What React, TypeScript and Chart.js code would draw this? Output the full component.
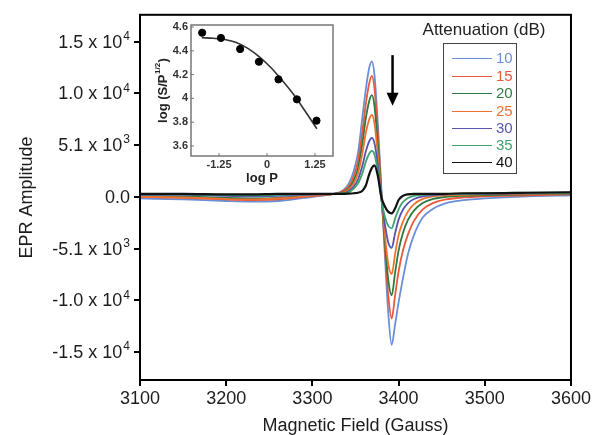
import React, { useEffect, useRef } from 'react';
import { Chart, registerables } from 'chart.js';

Chart.register(...registerables);

// ---------- data ----------
const FIELD = [3100, 3150, 3200, 3230, 3260, 3290, 3310, 3325, 3335, 3342, 3348, 3353, 3358, 3362, 3366, 3369, 3372, 3376, 3380, 3384, 3388, 3392, 3396, 3400, 3405, 3411, 3418, 3428, 3440, 3455, 3475, 3500, 3550, 3600];

const ATTENUATIONS = ['10', '15', '20', '25', '30', '35', '40'];
const COLORS = ['#6b8fd6', '#e8583a', '#2d7a3f', '#f07030', '#5654ad', '#3da36b', '#111111'];

const AMP_10 = [-150, -250, -400, -450, -400, -100, 100, 300, 600, 1250, 2500, 4300, 7700, 10400, 12500, 13100, 11800, 7000, 800, -5500, -11200, -14300, -12300, -10200, -7900, -5500, -3650, -2000, -1150, -600, -320, -150, 50, 150];
const AMP_15 = [0, -100, -250, -300, -250, 0, 150, 300, 550, 1000, 2000, 3500, 6300, 9000, 11000, 11700, 10500, 6000, 500, -4800, -9500, -11750, -9500, -7200, -5200, -3600, -2300, -1200, -600, -250, -50, 50, 150, 250];
const AMP_20 = [100, 50, -100, -150, -100, 100, 200, 300, 450, 800, 1600, 2800, 5200, 7600, 9300, 9840, 8800, 5000, 300, -4200, -8000, -9520, -7300, -5200, -3500, -2200, -1300, -600, -200, 0, 100, 150, 250, 300];
const AMP_25 = [0, -50, -200, -250, -150, 50, 200, 300, 400, 700, 1300, 2300, 4200, 6200, 7500, 7930, 7100, 4000, 0, -3600, -6500, -7460, -5500, -3700, -2400, -1400, -700, -200, 50, 150, 200, 250, 300, 350];
const AMP_30 = [200, 200, 100, 50, 100, 200, 250, 300, 350, 550, 1000, 1700, 3000, 4400, 5400, 5710, 5200, 3000, -200, -2600, -4400, -4920, -3500, -2200, -1240, -600, -200, 50, 150, 250, 300, 300, 350, 400];
const AMP_35 = [250, 250, 200, 150, 200, 250, 300, 300, 350, 450, 800, 1300, 2300, 3400, 4200, 4440, 4100, 2400, -200, -1900, -2800, -3020, -2100, -1200, -500, -100, 100, 200, 250, 300, 300, 350, 400, 400];
const AMP_40 = [300, 300, 250, 250, 300, 300, 300, 300, 300, 320, 350, 400, 600, 1100, 2200, 2800, 3050, 2000, 0, -900, -1450, -1590, -1100, -300, 100, 250, 300, 300, 300, 300, 350, 350, 400, 450];
const AMPLITUDES = [AMP_10, AMP_15, AMP_20, AMP_25, AMP_30, AMP_35, AMP_40];

const X_TICKS = [3100, 3200, 3300, 3400, 3500, 3600];
const Y_TICKS = [-15000, -10000, -5000, 0, 5000, 10000, 15000];
// tick label mantissa and exponent (exponent '' = no power of ten)
const Y_TICK_MANTISSA = ['-1.5', '-1.0', '-5.1', '0.0', '5.1', '1.0', '1.5'];
const Y_TICK_EXPONENT = ['4', '4', '3', '', '3', '4', '4'];

// arrow annotation (data coordinates)
const ARROW_FIELD = 3393;
const ARROW_FROM = 13700;
const ARROW_TO = 8800;

// inset: saturation plot
const LOG_P = [-1.69, -1.2, -0.7, -0.21, 0.3, 0.78, 1.29];
const LOG_S = [4.552, 4.508, 4.415, 4.308, 4.16, 3.992, 3.813];
const FIT_LOG_P = [-1.7, -1.4, -1.1, -0.8, -0.5, -0.2, 0.1, 0.4, 0.7, 1.0, 1.3];
const FIT_LOG_S = [4.51, 4.505, 4.495, 4.47, 4.42, 4.35, 4.26, 4.15, 4.03, 3.89, 3.745];
const INSET_X_TICKS = [-1.25, 0, 1.25];
const INSET_Y_TICKS = [3.6, 3.8, 4.0, 4.2, 4.4, 4.6];

const FONT = '"Liberation Sans", Arial, sans-serif';
const TEXT = '#1c1c1c';

const mainPlugin = {
  id: 'mainDeco',
  afterDraw(chart: any) {
    const { ctx, chartArea } = chart;
    const xs = chart.scales.x;
    const ys = chart.scales.y;
    ctx.save();
    ctx.strokeStyle = '#000';
    ctx.lineWidth = 2;
    ctx.strokeRect(chartArea.left, chartArea.top, chartArea.right - chartArea.left, chartArea.bottom - chartArea.top);
    // y tick labels with superscript exponent
    ctx.fillStyle = TEXT;
    ctx.textBaseline = 'middle';
    ctx.textAlign = 'left';
    const big = '18px ' + FONT;
    const small = '12px ' + FONT;
    const rightX = chartArea.left - 10;
    Y_TICKS.forEach((v, i) => {
      const py = ys.getPixelForValue(v);
      const base = Y_TICK_EXPONENT[i] ? Y_TICK_MANTISSA[i] + ' x 10' : Y_TICK_MANTISSA[i];
      ctx.font = big;
      const wb = ctx.measureText(base).width;
      let we = 0;
      if (Y_TICK_EXPONENT[i]) {
        ctx.font = small;
        we = ctx.measureText(Y_TICK_EXPONENT[i]).width + 1;
      }
      const x0 = rightX - wb - we;
      ctx.font = big;
      ctx.fillText(base, x0, py + 1);
      if (Y_TICK_EXPONENT[i]) {
        ctx.font = small;
        ctx.fillText(Y_TICK_EXPONENT[i], x0 + wb + 1, py - 5);
      }
    });
    // arrow
    const ax = xs.getPixelForValue(ARROW_FIELD);
    const ay1 = ys.getPixelForValue(ARROW_FROM);
    const ay2 = ys.getPixelForValue(ARROW_TO);
    ctx.strokeStyle = '#000';
    ctx.lineWidth = 2.5;
    ctx.beginPath();
    ctx.moveTo(ax, ay1);
    ctx.lineTo(ax, ay2 - 10);
    ctx.stroke();
    ctx.fillStyle = '#000';
    ctx.beginPath();
    ctx.moveTo(ax - 6, ay2 - 13);
    ctx.lineTo(ax + 6, ay2 - 13);
    ctx.lineTo(ax, ay2);
    ctx.closePath();
    ctx.fill();
    ctx.restore();
  },
};

const insetPlugin = {
  id: 'insetDeco',
  afterDraw(chart: any) {
    const { ctx, chartArea } = chart;
    const xs = chart.scales.x;
    const ys = chart.scales.y;
    ctx.save();
    ctx.strokeStyle = '#777';
    ctx.lineWidth = 1.5;
    ctx.strokeRect(chartArea.left, chartArea.top, chartArea.right - chartArea.left, chartArea.bottom - chartArea.top);
    ctx.lineWidth = 1;
    INSET_X_TICKS.forEach((v) => {
      const px = xs.getPixelForValue(v);
      ctx.beginPath();
      ctx.moveTo(px, chartArea.bottom);
      ctx.lineTo(px, chartArea.bottom - 3);
      ctx.stroke();
    });
    INSET_Y_TICKS.forEach((v) => {
      const py = ys.getPixelForValue(v);
      ctx.beginPath();
      ctx.moveTo(chartArea.left, py);
      ctx.lineTo(chartArea.left + 3, py);
      ctx.stroke();
    });
    // y title with superscript
    const cx = 18;
    const cy = (chartArea.top + chartArea.bottom) / 2;
    ctx.translate(cx, cy);
    ctx.rotate(-Math.PI / 2);
    ctx.fillStyle = '#222';
    ctx.textBaseline = 'middle';
    ctx.textAlign = 'left';
    const big = 'bold 13px ' + FONT;
    const small = 'bold 8px ' + FONT;
    ctx.font = big;
    const p1 = 'log (S/P';
    const w1 = ctx.measureText(p1).width;
    ctx.font = small;
    const p2 = '1/2';
    const w2 = ctx.measureText(p2).width;
    ctx.font = big;
    const p3 = ')';
    const w3 = ctx.measureText(p3).width;
    const total = w1 + w2 + 1 + w3;
    let x0 = -total / 2;
    ctx.fillText(p1, x0, 0);
    x0 += w1 + 0.5;
    ctx.font = small;
    ctx.fillText(p2, x0, -5);
    x0 += w2 + 0.5;
    ctx.font = big;
    ctx.fillText(p3, x0, 0);
    ctx.restore();
  },
};

export default function App() {
  const mainRef = useRef<HTMLCanvasElement>(null);
  const insetRef = useRef<HTMLCanvasElement>(null);

  useEffect(() => {
    document.body.style.margin = '0';
    const datasets = AMPLITUDES.map((arr, i) => ({
      label: ATTENUATIONS[i],
      data: FIELD.map((f, j) => ({ x: f, y: arr[j] })),
      borderColor: COLORS[i],
      backgroundColor: COLORS[i],
      borderWidth: i === 6 ? 2.2 : 1.8,
      pointRadius: 0,
      cubicInterpolationMode: 'monotone' as const,
      order: 6 - i,
    }));

    const main = new Chart(mainRef.current!, {
      type: 'line',
      data: { datasets },
      options: {
        responsive: false,
        animation: false,
        parsing: false as any,
        layout: { padding: { left: 0, top: 12, right: 22, bottom: 0 } },
        plugins: { legend: { display: false }, tooltip: { enabled: false } },
        scales: {
          x: {
            type: 'linear',
            min: 3100,
            max: 3600,
            afterBuildTicks: (s: any) => { s.ticks = X_TICKS.map((v) => ({ value: v })); },
            afterFit: (s: any) => { s.height = 55; },
            ticks: { color: TEXT, font: { family: FONT, size: 18 }, padding: 2, maxRotation: 0, callback: (v: any) => String(v) },
            grid: { display: true, drawOnChartArea: false, drawTicks: true, tickLength: 6, color: '#000', lineWidth: 2 },
            border: { display: true, color: '#000', width: 2 },
            title: { display: true, text: 'Magnetic Field (Gauss)', color: TEXT, font: { family: FONT, size: 18, lineHeight: 1 }, padding: { top: 0, bottom: 0 } },
          },
          y: {
            type: 'linear',
            min: -17700,
            max: 17600,
            afterBuildTicks: (s: any) => { s.ticks = Y_TICKS.map((v) => ({ value: v })); },
            afterFit: (s: any) => { s.width = 140; },
            ticks: {
              color: TEXT,
              font: { family: FONT, size: 18 },
              padding: 4,
              callback: () => '',
            },
            grid: { display: true, drawOnChartArea: false, drawTicks: true, tickLength: 6, color: '#000', lineWidth: 2 },
            border: { display: true, color: '#000', width: 2 },
            title: { display: true, text: 'EPR Amplitude', color: TEXT, font: { family: FONT, size: 18, lineHeight: 1 }, padding: { top: 18, bottom: 0 } },
          },
        },
      },
      plugins: [mainPlugin],
    });

    const inset = new Chart(insetRef.current!, {
      type: 'scatter',
      data: {
        datasets: [
          {
            label: 'data',
            data: LOG_P.map((p, i) => ({ x: p, y: LOG_S[i] })),
            backgroundColor: '#000',
            borderColor: '#000',
            pointRadius: 3.6,
            showLine: false,
            order: 0,
          },
          {
            label: 'fit',
            data: FIT_LOG_P.map((p, i) => ({ x: p, y: FIT_LOG_S[i] })),
            borderColor: '#333',
            backgroundColor: '#333',
            borderWidth: 1.6,
            pointRadius: 0,
            showLine: true,
            cubicInterpolationMode: 'monotone' as const,
            order: 1,
          },
        ],
      },
      options: {
        responsive: false,
        animation: false,
        layout: { padding: { left: 0, top: 10, right: 7, bottom: 0 } },
        plugins: { legend: { display: false }, tooltip: { enabled: false } },
        scales: {
          x: {
            type: 'linear',
            min: -1.98,
            max: 1.72,
            afterBuildTicks: (s: any) => { s.ticks = INSET_X_TICKS.map((v) => ({ value: v })); },
            afterFit: (s: any) => { s.height = 34; },
            ticks: { color: '#333', font: { family: FONT, size: 11, weight: 'bold' }, padding: 2, maxRotation: 0, callback: (v: any) => String(v) },
            grid: { display: false, drawTicks: false },
            border: { display: false },
            title: { display: true, text: 'log P', color: '#222', font: { family: FONT, size: 13, weight: 'bold', lineHeight: 1 }, padding: { top: 0, bottom: 5 } },
          },
          y: {
            type: 'linear',
            min: 3.516,
            max: 4.617,
            afterBuildTicks: (s: any) => { s.ticks = INSET_Y_TICKS.map((v) => ({ value: v })); },
            afterFit: (s: any) => { s.width = 46; },
            ticks: { color: '#333', font: { family: FONT, size: 11, weight: 'bold' }, padding: 3, callback: (v: any) => String(Number(Number(v).toFixed(1))) },
            grid: { display: false, drawTicks: false },
            border: { display: false },
          },
        },
      },
      plugins: [insetPlugin],
    });

    return () => {
      main.destroy();
      inset.destroy();
    };
  }, []);

  const rowTops = [58, 76, 93, 111, 128, 145, 162];

  return (
    <div style={{ position: 'relative', width: 593, height: 435, background: '#fff', fontFamily: FONT, overflow: 'hidden' }}>
      <canvas ref={mainRef} width={593} height={435} style={{ position: 'absolute', left: 0, top: 0 }} />
      <canvas ref={insetRef} width={195} height={175} style={{ position: 'absolute', left: 145, top: 15 }} />
      <div style={{ position: 'absolute', left: 404, top: 19, width: 160, textAlign: 'center', fontSize: 17, lineHeight: '22px', color: '#222', whiteSpace: 'nowrap' }}>
        Attenuation (dB)
      </div>
      <div style={{ position: 'absolute', left: 443, top: 43, width: 74, height: 131, border: '1.5px solid #444', boxSizing: 'border-box' }} />
      {ATTENUATIONS.map((a, i) => (
        <React.Fragment key={a}>
          <div style={{ position: 'absolute', left: 452, top: rowTops[i], width: 40, height: 0, borderTop: `1.8px solid ${COLORS[i]}` }} />
          <div style={{ position: 'absolute', left: 496, top: rowTops[i] - 9, fontSize: 15, lineHeight: '18px', color: COLORS[i] }}>{a}</div>
        </React.Fragment>
      ))}
    </div>
  );
}
